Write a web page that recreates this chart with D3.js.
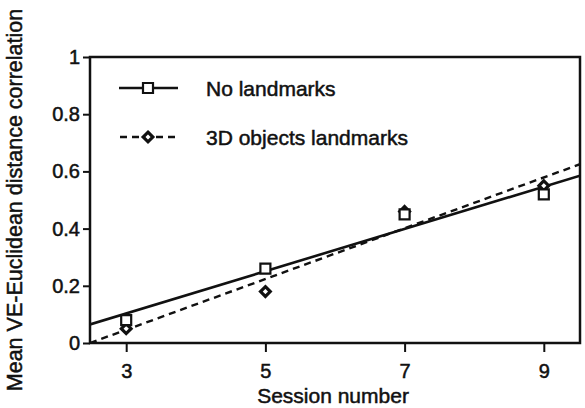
<!DOCTYPE html>
<html>
<head>
<meta charset="utf-8">
<script src="https://cdn.jsdelivr.net/npm/d3@7"></script>
<style>
  body { margin: 0; background: #fff; }
  text { font-family: "Liberation Sans", Arial, sans-serif; fill: #111; stroke: #111; stroke-width: 0.5px; }
</style>
</head>
<body>
<div id="chart"></div>
<script>
// data
let sessions = [3, 5, 7, 9];
let noLandmarks = [0.08, 0.26, 0.45, 0.52];
let objectLandmarks = [0.05, 0.18, 0.46, 0.55];
// fitted lines, endpoints at the plot edges
let fitNoLandmarks = [[2.48, 0.065], [9.52, 0.585]];
let fitObjects = [[2.48, 0.0], [9.52, 0.625]];
let xTicks = [3, 5, 7, 9];
let yTicks = [0, 0.2, 0.4, 0.6, 0.8, 1];
let seriesNames = ["No landmarks", "3D objects landmarks"];

let svgWidth = 585, svgHeight = 408;
let plotLeft = 90, plotRight = 580, plotTop = 57, plotBottom = 343;

let svg = d3.select("#chart").append("svg")
  .attr("width", svgWidth)
  .attr("height", svgHeight);

let xScale = d3.scaleLinear().domain([2.48, 9.52]).range([plotLeft, plotRight]);
let yScale = d3.scaleLinear().domain([0, 1]).range([plotBottom, plotTop]);

svg.append("defs").append("clipPath").attr("id", "plotclip")
  .append("rect")
  .attr("x", plotLeft).attr("y", plotTop)
  .attr("width", plotRight - plotLeft).attr("height", plotBottom - plotTop);

// axes
let yAxis = svg.append("g")
  .attr("transform", "translate(" + plotLeft + ",0)")
  .call(d3.axisLeft(yScale).tickValues(yTicks).tickSize(7).tickPadding(3)
    .tickFormat(d => d === 0 || d === 1 ? d3.format("d")(d) : d3.format(".1f")(d)));
let xAxis = svg.append("g")
  .attr("transform", "translate(0," + plotBottom + ")")
  .call(d3.axisBottom(xScale).tickValues(xTicks).tickSize(9).tickPadding(12)
    .tickFormat(d3.format("d")));

[xAxis, yAxis].forEach(function(ax) {
  ax.select(".domain").remove();
  ax.selectAll("line").attr("stroke", "#111").attr("stroke-width", 2);
  ax.selectAll("text").style("font-size", "20px").attr("fill", "#111");
});

// frame
svg.append("rect")
  .attr("x", plotLeft).attr("y", plotTop)
  .attr("width", plotRight - plotLeft).attr("height", plotBottom - plotTop)
  .attr("fill", "none").attr("stroke", "#111").attr("stroke-width", 2.5);

// fit lines
let line = d3.line().x(d => xScale(d[0])).y(d => yScale(d[1]));
let plot = svg.append("g").attr("clip-path", "url(#plotclip)");
plot.append("path").attr("d", line(fitNoLandmarks))
  .attr("fill", "none").attr("stroke", "#111").attr("stroke-width", 2.6);
plot.append("path").attr("d", line(fitObjects))
  .attr("fill", "none").attr("stroke", "#111").attr("stroke-width", 2.4)
  .attr("stroke-dasharray", "7,5");

// markers
let square = d3.symbol().type(d3.symbolSquare).size(100);
let diamond = d3.symbol().type(d3.symbolDiamond2).size(60);

svg.append("g").selectAll("path")
  .data(sessions)
  .enter().append("path")
  .attr("transform", (d, i) => "translate(" + xScale(d) + "," + yScale(objectLandmarks[i]) + ")")
  .attr("d", diamond)
  .attr("fill", "#fff").attr("stroke", "#111").attr("stroke-width", 3.2);

svg.append("g").selectAll("path")
  .data(sessions)
  .enter().append("path")
  .attr("transform", (d, i) => "translate(" + xScale(d) + "," + yScale(noLandmarks[i]) + ")")
  .attr("d", square)
  .attr("fill", "#fff").attr("stroke", "#111").attr("stroke-width", 2.2);

// legend
let legend = svg.append("g");
let legendY = [88, 137];
legend.append("line").attr("x1", 119).attr("x2", 178).attr("y1", legendY[0]).attr("y2", legendY[0])
  .attr("stroke", "#111").attr("stroke-width", 2.6);
legend.append("path").attr("transform", "translate(148," + legendY[0] + ")").attr("d", square)
  .attr("fill", "#fff").attr("stroke", "#111").attr("stroke-width", 2.2);
legend.append("line").attr("x1", 120).attr("x2", 176).attr("y1", legendY[1]).attr("y2", legendY[1])
  .attr("stroke", "#111").attr("stroke-width", 2.4).attr("stroke-dasharray", "7,5");
legend.append("path").attr("transform", "translate(148," + legendY[1] + ")").attr("d", diamond)
  .attr("fill", "#fff").attr("stroke", "#111").attr("stroke-width", 3.2);
legend.selectAll("text.lbl")
  .data(seriesNames)
  .enter().append("text")
  .attr("class", "lbl")
  .attr("x", 206)
  .attr("y", (d, i) => legendY[i] + 8)
  .style("font-size", "21px")
  .text(d => d);

// axis titles
svg.append("text")
  .attr("x", (plotLeft + plotRight) / 2 - 2)
  .attr("y", 403)
  .attr("text-anchor", "middle")
  .style("font-size", "21px")
  .text("Session number");

svg.append("text")
  .attr("transform", "translate(22,200) rotate(-90)")
  .attr("text-anchor", "middle")
  .style("font-size", "21.5px")
  .text("Mean VE-Euclidean distance correlation");
</script>
</body>
</html>
